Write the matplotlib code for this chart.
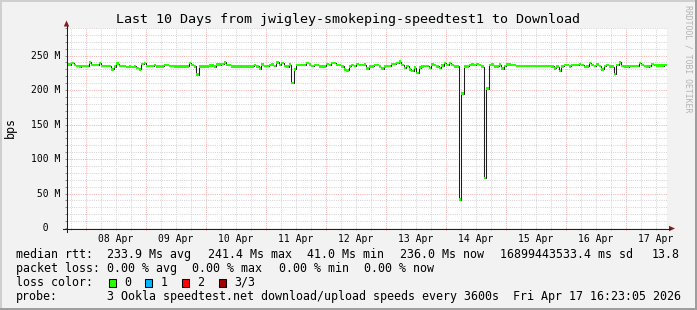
import numpy as np
import matplotlib
matplotlib.use("Agg")
import matplotlib.pyplot as plt
from matplotlib import transforms as mtransforms
from matplotlib.patches import Rectangle, Polygon
from matplotlib.lines import Line2D

W, H = 697, 310
MONO = "DejaVu Sans Mono"

# ---------------- data ----------------
# hourly median download speed in Mbps, first sample starting Apr 7 ~16:00
median_mbps = [
    237, 237, 239, 236, 235, 234, 235, 235, 235, 240, 236, 236, 236, 239, 235, 235, 235, 235, 230, 234, 238.5, 235, 235, 235,
    233.5, 234.5, 233.5, 234.5, 232, 230, 237.5, 239, 235, 235, 235, 236.5, 234.5, 234.5, 234.5, 236, 236, 235, 235, 234.5, 234.5, 234.5, 234.5, 234.5,
    234.5, 239, 236, 234.5, 222.5, 234.5, 234.5, 234.5, 234.5, 235.5, 235.5, 234, 237, 237, 237.5, 240, 236, 236, 234.5, 234.5, 234.5, 234.5, 234.5, 234.5,
    234.5, 234.5, 234.5, 236, 234.5, 231, 237, 235, 235, 236, 237, 235, 240, 236, 239, 235, 234, 237, 210.5, 230, 236, 236, 236, 236,
    239, 237, 235, 236, 236, 234.5, 234.5, 234.5, 237.5, 236, 239, 239, 236, 236, 234.5, 230, 228.7, 234.5, 236.5, 235, 237.5, 236, 236, 237,
    231, 234.5, 234.5, 236, 236, 234, 231, 234.5, 235, 235, 237.5, 237.5, 239, 241.4, 236, 232, 235, 230, 227.3, 232.5, 224.4, 232.5, 234.5, 235,
    235, 232, 237, 236, 234.5, 232, 235.5, 239, 236, 239, 236, 234.5, 234.5, 41, 195, 234.5, 234.5, 236, 237, 236, 238, 236, 234, 72.5,
    202, 236, 237, 234.5, 234.5, 237, 231, 235, 237, 237, 236.5, 236.5, 235, 235, 235, 235, 235, 235, 235, 235, 235, 235, 235, 235,
    235, 235, 234.5, 231.5, 234, 227.3, 234.5, 236, 236, 234.5, 236, 236, 236, 237.5, 236, 233.5, 234.5, 239, 236, 235, 237, 235, 230, 235,
    236, 234.5, 234, 223, 236, 240, 235, 234, 234, 235, 235, 235, 235, 239, 236, 235, 234, 235, 238, 236, 235.5, 235.5, 235.5, 236,
    236,
]
first_sample_offset_h = -0.4          # first sample start, hours after graph start (16:23)
graph_span_h = 240                    # last 10 days
first_midnight_h = 7 + 37 / 60        # Apr 8 00:00 in hours after graph start
day_labels = ["08 Apr", "09 Apr", "10 Apr", "11 Apr", "12 Apr",
              "13 Apr", "14 Apr", "15 Apr", "16 Apr", "17 Apr"]
y_max = 290
y_tick_values = [0, 50, 100, 150, 200, 250]
y_tick_labels = ["  0", " 50 M", "100 M", "150 M", "200 M", "250 M"]

title = "Last 10 Days from jwigley-smokeping-speedtest1 to Download"
rtt_items = ["median rtt:", "233.9 Ms avg", "241.4 Ms max", "41.0 Ms min",
             "236.0 Ms now", "16899443533.4 ms sd", "13.8"]
loss_items = ["packet loss:", "0.00 % avg", "0.00 % max", "0.00 % min", "0.00 % now"]
loss_labels = ["0", "1", "2", "3/3"]
loss_colors = ["#26ff00", "#00b8ff", "#ff0000", "#a00000"]
probe_text = "3 Ookla speedtest.net download/upload speeds every 3600s  Fri Apr 17 16:23:05 2026"

# ---------------- figure ----------------
fig = plt.figure(figsize=(W / 100, H / 100), dpi=100, facecolor="#f2f2f2")
px = mtransforms.Affine2D().scale(1 / W, -1 / H).translate(0, 1) + fig.transFigure

ax = fig.add_axes([67 / W, 1 - 228 / H, 600 / W, 200 / H])
ax.set_facecolor("white")
for s in ax.spines.values():
    s.set_visible(False)
ax.set_xlim(0, graph_span_h)
ax.set_ylim(0, y_max)

# grid
y_major = [v for v in range(0, y_max + 1, 50)]
y_minor = [v for v in range(10, y_max + 1, 10) if v % 50]
x_major = [first_midnight_h + 24 * k for k in range(10)]
x_minor = [first_midnight_h - 6 + 6 * k for k in range(40) if k % 4 != 1]
x_minor = [x for x in x_minor if 0 < x < graph_span_h]

dot = (0, (1, 1.2))
for y in y_minor:
    ax.axhline(y, color="#d4d4d4", lw=0.72, ls=dot, zorder=1)
for x in x_minor:
    ax.axvline(x, color="#d4d4d4", lw=0.72, ls=dot, zorder=1)
for y in y_major[1:]:
    ax.axhline(y, color="#f2b0b0", lw=0.72, ls=dot, zorder=1.5)
for x in x_major:
    ax.axvline(x, color="#f2b0b0", lw=0.72, ls=dot, zorder=1.5)

ax.set_xticks(x_major)
ax.set_xticks(x_minor, minor=True)
ax.set_yticks(y_major)
ax.set_yticks(y_minor, minor=True)
ax.tick_params(which="both", direction="out", length=1.5, width=0.72,
               labelbottom=False, labelleft=False)
ax.tick_params(axis="x", which="major", color="#e08080")
ax.tick_params(axis="x", which="minor", color="#b8b8b8")
ax.tick_params(axis="y", which="both", color="#909090")

# data: black median step line + green loss-coloured band
v = np.array(median_mbps, dtype=float)
edges = first_sample_offset_h + np.arange(len(v) + 1)
swidth = 1.8
ax.stairs(v, edges, baseline=None, color="#202020", lw=0.75, zorder=3)
ax.stairs(v + swidth, edges, baseline=v - swidth, fill=True,
          color=loss_colors[0], lw=0, zorder=4)

# axes lines and arrows (pixel coordinates)
fig.add_artist(Line2D([66.5, 66.5], [231.5, 25.5], transform=px, color="#1f1f1f", lw=0.75))
fig.add_artist(Line2D([62.5, 670], [228.5, 228.5], transform=px, color="#1f1f1f", lw=0.75))
fig.add_artist(Polygon([[63.8, 26.5], [69.2, 26.5], [66.5, 20.5]], closed=True,
                       transform=px, color="#7f1f1f", lw=0))
fig.add_artist(Polygon([[669, 225.8], [669, 231.2], [675, 228.5]], closed=True,
                       transform=px, color="#7f1f1f", lw=0))

# y tick labels
ylab_tr = mtransforms.blended_transform_factory(px, ax.transData)
for val, lab in zip(y_tick_values, y_tick_labels):
    ax.text(30.7, val, lab, transform=ylab_tr, ha="left", va="center",
            family=MONO, fontsize=7, color="black")

# day labels at noon
xlab_tr = mtransforms.blended_transform_factory(ax.transData, px)
for k, lab in enumerate(day_labels):
    ax.text(first_midnight_h + 12 + 24 * k, 238.5, lab, transform=xlab_tr,
            ha="center", va="center", family=MONO, fontsize=7, color="black",
            clip_on=False)

# title, axis label, watermark
fig.text(348.5, 19, title, transform=px, ha="center", va="center",
         family=MONO, fontsize=9.6, color="black")
fig.text(10, 128, "bps", transform=px, ha="center", va="center", rotation=90,
         family=MONO, fontsize=8.35, color="black")
fig.text(688, 59, "RRDTOOL / TOBI OETIKER", transform=px, ha="center", va="center",
         rotation=-90, family=MONO, fontsize=5.9, color="#b4b4b4")

# legend
fs = 8.35
rtt_x = [16, 107.3, 207.5, 306.7, 400.3, 500.5, 652]
for x, t in zip(rtt_x, rtt_items):
    fig.text(x, 254.3, t, transform=px, ha="left", va="center", family=MONO, fontsize=fs)
loss_x = [16, 107.3, 192.5, 279, 364]
for x, t in zip(loss_x, loss_items):
    fig.text(x, 268.3, t, transform=px, ha="left", va="center", family=MONO, fontsize=fs)
fig.text(16, 282.3, "loss color:", transform=px, ha="left", va="center", family=MONO, fontsize=fs)
for i, (lab, col) in enumerate(zip(loss_labels, loss_colors)):
    bx = 108.5 + i * 36.67
    fig.add_artist(Rectangle((bx, 278.5), 7, 8, transform=px, facecolor=col,
                             edgecolor="black", lw=0.75))
    fig.text(bx + 15.5, 282.3, lab, transform=px, ha="left", va="center",
             family=MONO, fontsize=fs)
fig.text(16, 296.3, "probe:", transform=px, ha="left", va="center", family=MONO, fontsize=fs)
fig.text(107.3, 296.3, probe_text, transform=px, ha="left", va="center", family=MONO, fontsize=fs)

# frame shading
fig.add_artist(Rectangle((0, 0), W, 2, transform=px, color="#cfcfcf", lw=0))
fig.add_artist(Rectangle((0, 0), 2, H, transform=px, color="#cfcfcf", lw=0))
fig.add_artist(Rectangle((0, H - 2), W, 2, transform=px, color="#9e9e9e", lw=0))
fig.add_artist(Rectangle((W - 2, 0), 2, H, transform=px, color="#9e9e9e", lw=0))

fig.savefig("out.png", dpi=100, facecolor=fig.get_facecolor())
